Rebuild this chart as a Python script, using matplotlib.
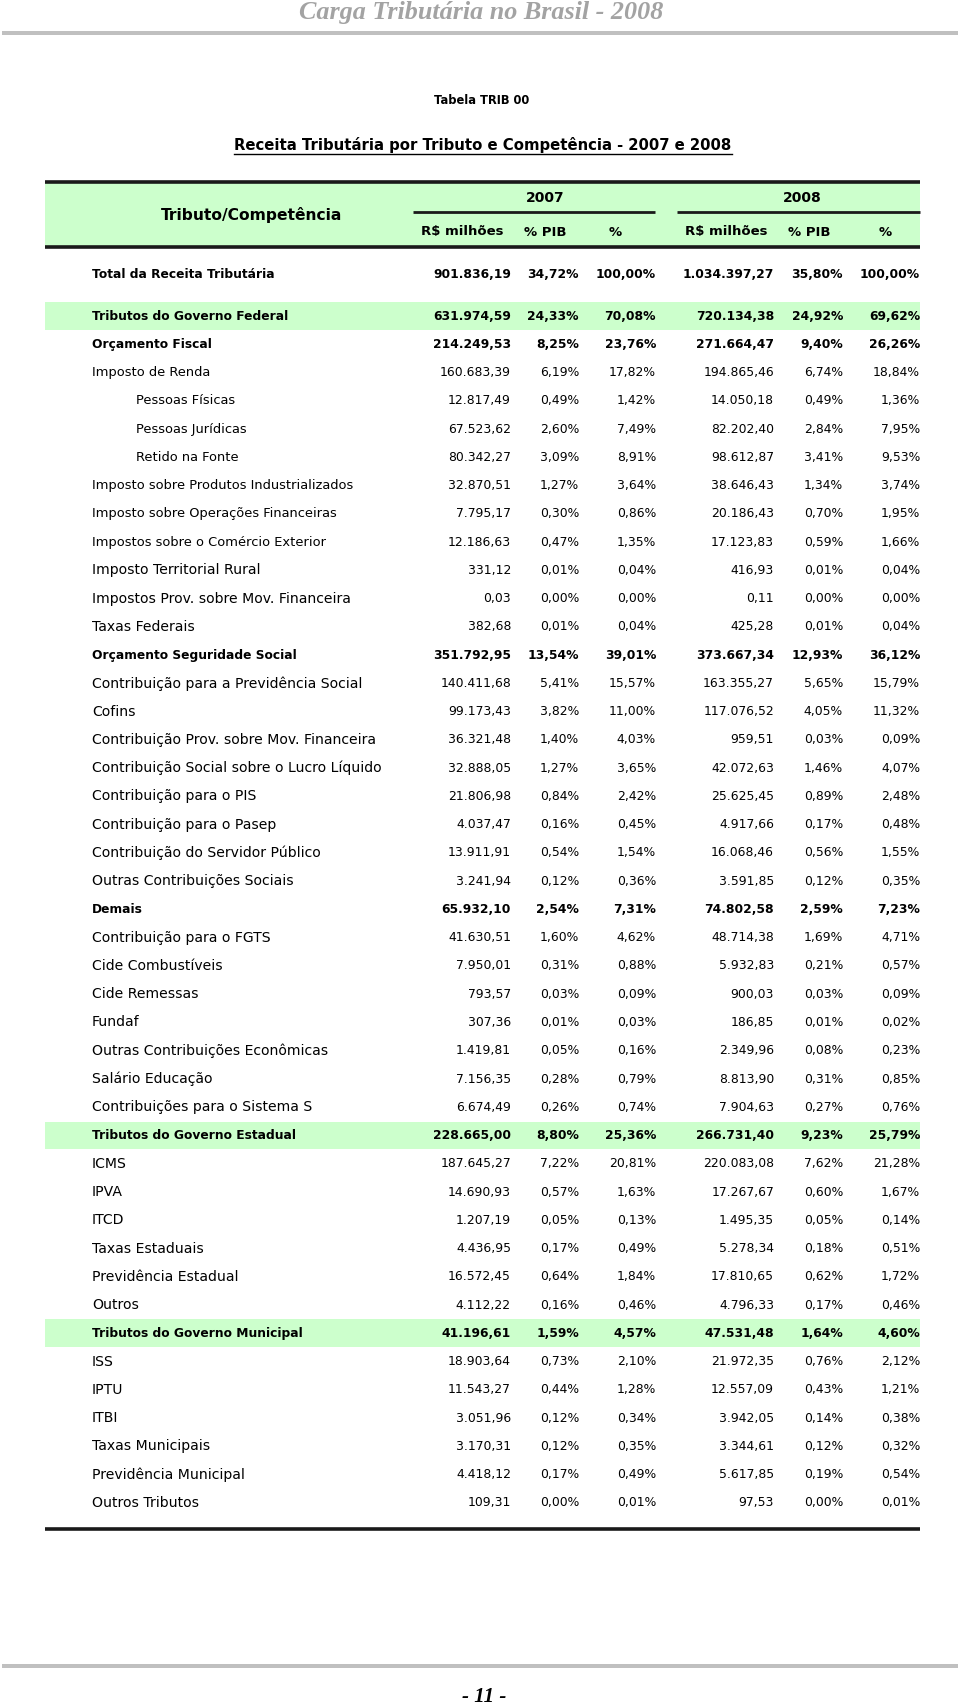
import matplotlib
matplotlib.use("Agg")
import matplotlib.pyplot as plt
from matplotlib.patches import Rectangle

# ---------------- data ----------------
page_title = "Carga Tributária no Brasil - 2008"
table_id = "Tabela TRIB 00"
table_title = "Receita Tributária por Tributo e Competência - 2007 e 2008"
col_header = "Tributo/Competência"
years = ["2007", "2008"]
sub_headers = ["R$ milhões", "% PIB", "%"]
page_number = "- 11 -"

total_label = "Total da Receita Tributária"
total_2007 = [901836.19, 34.72, 100.00]
total_2008 = [1034397.27, 35.80, 100.00]

labels = [
    "Tributos do Governo Federal", "Orçamento Fiscal", "Imposto de Renda",
    "Pessoas Físicas", "Pessoas Jurídicas", "Retido na Fonte",
    "Imposto sobre Produtos Industrializados", "Imposto sobre Operações Financeiras",
    "Impostos sobre o Comércio Exterior", "Imposto Territorial Rural",
    "Impostos Prov. sobre Mov. Financeira", "Taxas Federais",
    "Orçamento Seguridade Social", "Contribuição para a Previdência Social", "Cofins",
    "Contribuição Prov. sobre Mov. Financeira", "Contribuição Social sobre o Lucro Líquido",
    "Contribuição para o PIS", "Contribuição para o Pasep", "Contribuição do Servidor Público",
    "Outras Contribuições Sociais", "Demais", "Contribuição para o FGTS", "Cide Combustíveis",
    "Cide Remessas", "Fundaf", "Outras Contribuições Econômicas", "Salário Educação",
    "Contribuições para o Sistema S", "Tributos do Governo Estadual", "ICMS", "IPVA", "ITCD",
    "Taxas Estaduais", "Previdência Estadual", "Outros", "Tributos do Governo Municipal",
    "ISS", "IPTU", "ITBI", "Taxas Municipais", "Previdência Municipal", "Outros Tributos",
]
indent = [0, 0, 0, 1, 1, 1] + [0] * 37
bold_rows = ["Tributos do Governo Federal", "Orçamento Fiscal", "Orçamento Seguridade Social",
             "Demais", "Tributos do Governo Estadual", "Tributos do Governo Municipal"]
green_rows = ["Tributos do Governo Federal", "Tributos do Governo Estadual",
              "Tributos do Governo Municipal"]

rs_2007 = [631974.59, 214249.53, 160683.39, 12817.49, 67523.62, 80342.27, 32870.51, 7795.17,
           12186.63, 331.12, 0.03, 382.68, 351792.95, 140411.68, 99173.43, 36321.48, 32888.05,
           21806.98, 4037.47, 13911.91, 3241.94, 65932.10, 41630.51, 7950.01, 793.57, 307.36,
           1419.81, 7156.35, 6674.49, 228665.00, 187645.27, 14690.93, 1207.19, 4436.95,
           16572.45, 4112.22, 41196.61, 18903.64, 11543.27, 3051.96, 3170.31, 4418.12, 109.31]
pib_2007 = [24.33, 8.25, 6.19, 0.49, 2.60, 3.09, 1.27, 0.30, 0.47, 0.01, 0.00, 0.01, 13.54,
            5.41, 3.82, 1.40, 1.27, 0.84, 0.16, 0.54, 0.12, 2.54, 1.60, 0.31, 0.03, 0.01, 0.05,
            0.28, 0.26, 8.80, 7.22, 0.57, 0.05, 0.17, 0.64, 0.16, 1.59, 0.73, 0.44, 0.12, 0.12,
            0.17, 0.00]
pct_2007 = [70.08, 23.76, 17.82, 1.42, 7.49, 8.91, 3.64, 0.86, 1.35, 0.04, 0.00, 0.04, 39.01,
            15.57, 11.00, 4.03, 3.65, 2.42, 0.45, 1.54, 0.36, 7.31, 4.62, 0.88, 0.09, 0.03, 0.16,
            0.79, 0.74, 25.36, 20.81, 1.63, 0.13, 0.49, 1.84, 0.46, 4.57, 2.10, 1.28, 0.34, 0.35,
            0.49, 0.01]
rs_2008 = [720134.38, 271664.47, 194865.46, 14050.18, 82202.40, 98612.87, 38646.43, 20186.43,
           17123.83, 416.93, 0.11, 425.28, 373667.34, 163355.27, 117076.52, 959.51, 42072.63,
           25625.45, 4917.66, 16068.46, 3591.85, 74802.58, 48714.38, 5932.83, 900.03, 186.85,
           2349.96, 8813.90, 7904.63, 266731.40, 220083.08, 17267.67, 1495.35, 5278.34,
           17810.65, 4796.33, 47531.48, 21972.35, 12557.09, 3942.05, 3344.61, 5617.85, 97.53]
pib_2008 = [24.92, 9.40, 6.74, 0.49, 2.84, 3.41, 1.34, 0.70, 0.59, 0.01, 0.00, 0.01, 12.93,
            5.65, 4.05, 0.03, 1.46, 0.89, 0.17, 0.56, 0.12, 2.59, 1.69, 0.21, 0.03, 0.01, 0.08,
            0.31, 0.27, 9.23, 7.62, 0.60, 0.05, 0.18, 0.62, 0.17, 1.64, 0.76, 0.43, 0.14, 0.12,
            0.19, 0.00]
pct_2008 = [69.62, 26.26, 18.84, 1.36, 7.95, 9.53, 3.74, 1.95, 1.66, 0.04, 0.00, 0.04, 36.12,
            15.79, 11.32, 0.09, 4.07, 2.48, 0.48, 1.55, 0.35, 7.23, 4.71, 0.57, 0.09, 0.02, 0.23,
            0.85, 0.76, 25.79, 21.28, 1.67, 0.14, 0.51, 1.72, 0.46, 4.60, 2.12, 1.21, 0.38, 0.32,
            0.54, 0.01]


def br(v, pct=False):
    s = f"{v:,.2f}".replace(",", "X").replace(".", ",").replace("X", ".")
    return s + "%" if pct else s


# ---------------- layout ----------------
W, H = 960, 1705
fig = plt.figure(figsize=(W / 100, H / 100), dpi=100)
ax = fig.add_axes([0, 0, 1, 1])
ax.set_xlim(0, W)
ax.set_ylim(H, 0)
ax.axis("off")
FONT = "DejaVu Sans"
GREEN = "#ccffcc"

x_left, x_right = 45, 920
label_x = [92, 136]
col_right = [511, 579, 656, 774, 843, 920]
sub_centers = [462, 545, 615, 726, 809, 885]
year_centers = [545, 802]
year_lines = [(413, 655), (677, 920)]

renderer = fig.canvas.get_renderer()


def fit_width(t, target):
    w = t.get_window_extent(renderer).width
    t.set_fontsize(t.get_fontsize() * target / w)


# page header
t = ax.text(481, 12, page_title, ha="center", va="center", family="Liberation Serif",
            style="italic", weight="bold", color="#a3a3a3", fontsize=17)
fit_width(t, 366)
ax.add_patch(Rectangle((2, 31), 956, 4, color="#c0c0c0", lw=0))

t = ax.text(482, 100, table_id, ha="center", va="center", family=FONT, weight="bold", fontsize=8.5)
fit_width(t, 96)
tt = ax.text(483, 145, table_title, ha="center", va="center", family=FONT, weight="bold",
             fontsize=10)
fit_width(tt, 497)
bb = tt.get_window_extent(renderer)
ax.plot([bb.x0, bb.x1], [153.5, 153.5], color="black", lw=1.0)

# header block
ax.add_patch(Rectangle((x_left, 181.5), x_right - x_left, 65.5, color=GREEN, lw=0, zorder=0))
ax.plot([x_left, x_right], [181.5, 181.5], color="#1a1a1a", lw=2.6, solid_capstyle="butt")
ax.plot([x_left, x_right], [247, 247], color="#1a1a1a", lw=2.6, solid_capstyle="butt")
ax.text(252, 215, col_header, ha="center", va="center", family=FONT, weight="bold",
        fontsize=11.2)
for yc, yr, (a, b) in zip(year_centers, years, year_lines):
    ax.text(yc, 198, yr, ha="center", va="center", family=FONT, weight="bold", fontsize=10)
    ax.plot([a, b], [212, 212], color="#1a1a1a", lw=2.0, solid_capstyle="butt")
for i, xc in enumerate(sub_centers):
    ax.text(xc, 232, sub_headers[i % 3], ha="center", va="center", family=FONT,
            weight="bold", fontsize=9.5)

# total row
ax.text(label_x[0], 275, total_label, ha="left", va="center", family=FONT, weight="bold",
        fontsize=8.8)
for j, v in enumerate(total_2007 + total_2008):
    ax.text(col_right[j], 275, br(v, pct=(j % 3 != 0)), ha="right", va="center",
            family=FONT, weight="bold", fontsize=8.9)

# body rows
y0, pitch = 316, 28.26
cols = [rs_2007, pib_2007, pct_2007, rs_2008, pib_2008, pct_2008]
for i, lab in enumerate(labels):
    y = y0 + i * pitch
    is_bold = lab in bold_rows
    if lab in green_rows:
        ax.add_patch(Rectangle((x_left, y - 14), x_right - x_left, 27.5, color=GREEN, lw=0,
                               zorder=0))
    if is_bold:
        lfs = 8.8
    else:
        lfs = 9.4 if i <= 8 else 10.1
    ax.text(label_x[indent[i]], y, lab, ha="left", va="center", family=FONT,
            weight="bold" if is_bold else "normal", fontsize=lfs)
    for j, col in enumerate(cols):
        ax.text(col_right[j], y, br(col[i], pct=(j % 3 != 0)), ha="right", va="center",
                family=FONT, weight="bold" if is_bold else "normal", fontsize=8.9)

# bottom rule
ax.plot([x_left, x_right], [1529, 1529], color="#1a1a1a", lw=2.6, solid_capstyle="butt")

# footer
ax.add_patch(Rectangle((2, 1664), 956, 4, color="#c0c0c0", lw=0))
ax.text(484, 1697, page_number, ha="center", va="center", family="Liberation Serif",
        style="italic", weight="bold", fontsize=15)

fig.savefig("out.png", dpi=100)
